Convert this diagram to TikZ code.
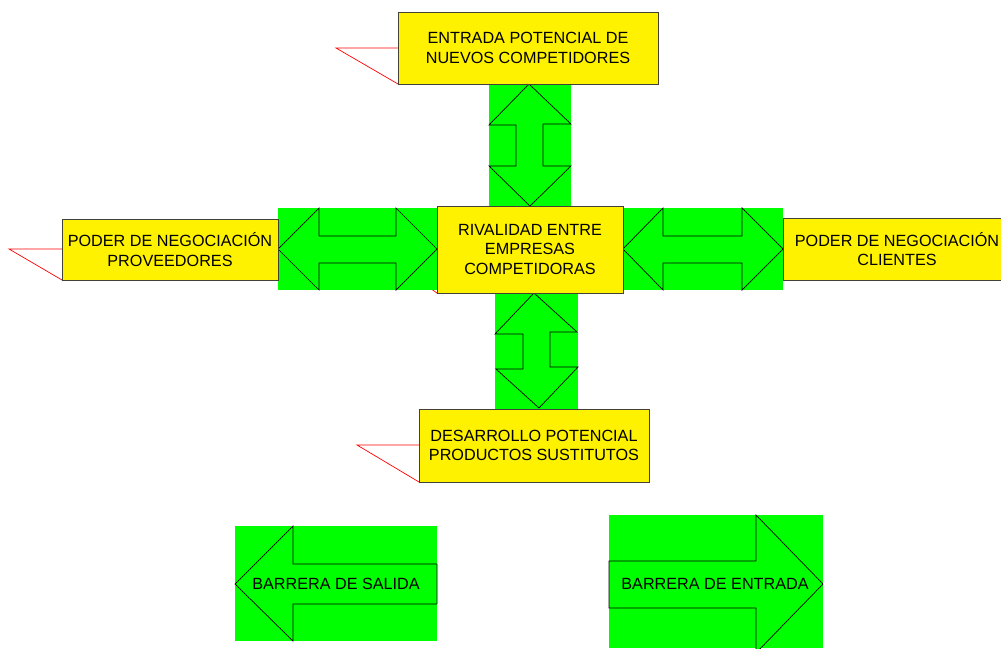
\documentclass[tikz,border=0pt]{standalone}
\usepackage{fontspec}
\setmainfont{Liberation Sans}
\begin{document}
\begin{tikzpicture}[x=1pt,y=-1pt,
  box/.style={draw=black!85!yellow,line width=0.9pt,fill=yellow,align=center,
    inner sep=0pt,font=\fontsize{16.2}{19.8}\selectfont},
  pad/.style={fill=green},
  arrowshape/.style={draw=black,line width=0.7pt,fill=green},
  tail/.style={draw=red,line width=0.7pt},
  label/.style={font=\fontsize{16.2}{19.8}\selectfont,inner sep=0pt}]
\useasboundingbox (0,0) rectangle (1001,648);

% callout tails sit under the boxes
\coordinate (tt) at (336,48);
\coordinate (lt) at (9,249);
\coordinate (ct) at (375,250);
\coordinate (bt) at (357,445);
\draw[tail] (398,48) -- (tt) -- (398,84);
\draw[tail] (62,249) -- (lt) -- (62,280);
\draw[tail] (437,250) -- (ct) -- (437,293);
\draw[tail] (419,445) -- (bt) -- (419,482);

% green pads with double arrows
\fill[pad] (489,84) rectangle (571,206);
\draw[arrowshape] (529,84) -- (571,124) -- (543,124) -- (543,166) -- (571,166)
  -- (530,206) -- (489,166) -- (516,166) -- (516,125) -- (489,125) -- cycle;

\fill[pad] (278,208) rectangle (437,290);
\draw[arrowshape] (278,249) -- (319,208) -- (319,236) -- (396,236) -- (396,208)
  -- (437,249) -- (396,290) -- (396,263) -- (319,263) -- (319,290) -- cycle;

\fill[pad] (623,208) rectangle (783,290);
\draw[arrowshape] (623,249) -- (663,208) -- (663,236) -- (742,236) -- (742,208)
  -- (783,249) -- (742,290) -- (742,263) -- (663,263) -- (663,290) -- cycle;

\fill[pad] (495,293) rectangle (578,409);
\draw[arrowshape] (534,293) -- (577,332) -- (550,332) -- (550,367) -- (578,367)
  -- (539,408) -- (496,369) -- (523,369) -- (523,334) -- (495,334) -- cycle;

% the five forces
\node[box,minimum width=260,minimum height=72] (top) at (528,48)
  {ENTRADA POTENCIAL DE\\NUEVOS COMPETIDORES};
\node[box,minimum width=216,minimum height=61] (left) at (170,249.5)
  {PODER DE NEGOCIACIÓN\\PROVEEDORES};
\node[box,minimum width=186,minimum height=87] (center) at (530,249.5)
  {RIVALIDAD ENTRE\\EMPRESAS\\COMPETIDORAS};
\node[box,minimum width=228,minimum height=62] (right) at (897,249)
  {PODER DE NEGOCIACIÓN\\CLIENTES};
\node[box,minimum width=230,minimum height=73] (bottom) at (534,445.5)
  {DESARROLLO POTENCIAL\\PRODUCTOS SUSTITUTOS};

% barriers
\fill[pad] (235,526) rectangle (437,641);
\draw[arrowshape] (235,584) -- (293,526) -- (293,564) -- (437,564) -- (437,604)
  -- (293,604) -- (293,641) -- cycle;
\node[label] (exit) at (336,584) {BARRERA DE SALIDA};

\fill[pad] (609,515) rectangle (823,648);
\draw[arrowshape] (609,561) -- (756,561) -- (756,515) -- (823,584) -- (756,653)
  -- (756,608) -- (609,608) -- cycle;
\node[label] (entry) at (715,584) {BARRERA DE ENTRADA};
\end{tikzpicture}
\end{document}
